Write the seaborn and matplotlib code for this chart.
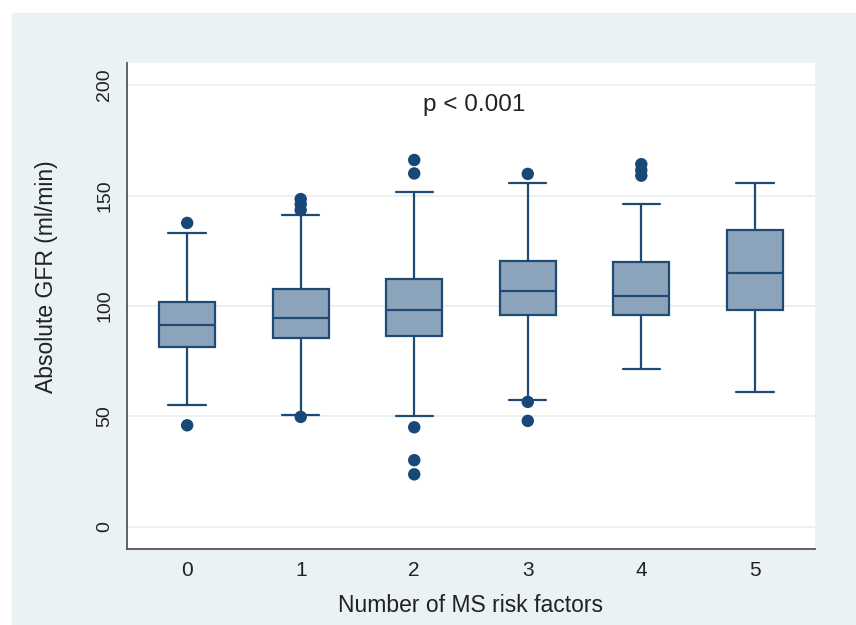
import seaborn as sns
import matplotlib.pyplot as plt
import matplotlib.patches as mpatches
import pandas as pd

groups = ['0', '1', '2', '3', '4', '5']
medians = [91.3, 94.7, 98.4, 106.7, 104.7, 115.1]
q1 = [81.3, 85.5, 86.4, 95.7, 95.9, 98.4]
q3 = [101.6, 107.9, 112.0, 120.2, 120.0, 134.5]
whisk_lo = [55.4, 50.6, 50.3, 57.6, 71.5, 61.0]
whisk_hi = [133.0, 141.3, 151.5, 155.6, 146.3, 155.8]
outliers = [
    [137.6, 46.0],
    [148.4, 146.0, 143.4, 49.8],
    [166.1, 160.0, 45.1, 30.2, 23.8],
    [159.8, 56.6, 48.0],
    [164.2, 161.5, 159.0],
    [],
]

sns.set_style('white')
plt.rcParams['font.family'] = ['Liberation Sans', 'DejaVu Sans']

navy = '#1F4A74'
fill = '#8CA4BB'
bg = '#EAF2F3'

fig = plt.figure(figsize=(8.56, 6.25), dpi=100, facecolor='white')
fig.patches.append(mpatches.Rectangle((12 / 856, 0), 1, 1 - 13 / 625,
                                      transform=fig.transFigure, color=bg, zorder=-10))
ax = fig.add_axes([127 / 856, 76 / 625, 688 / 856, 486 / 625])
ax.set_facecolor('white')

stats = []
for i, g in enumerate(groups):
    stats.append({'med': medians[i], 'q1': q1[i], 'q3': q3[i],
                  'whislo': whisk_lo[i], 'whishi': whisk_hi[i],
                  'fliers': [], 'label': g})

ax.bxp(stats, positions=range(len(groups)), widths=0.49, capwidths=0.33,
       showfliers=False, patch_artist=True,
       boxprops=dict(facecolor=fill, edgecolor=navy, linewidth=1.6),
       medianprops=dict(color=navy, linewidth=1.6),
       whiskerprops=dict(color=navy, linewidth=1.6),
       capprops=dict(color=navy, linewidth=1.6), zorder=3)

out_df = pd.DataFrame([(i, v) for i, vals in enumerate(outliers) for v in vals],
                      columns=['group', 'gfr'])
sns.scatterplot(data=out_df, x='group', y='gfr', ax=ax, color='#174878',
                s=80, edgecolor='none', zorder=4)

ax.set_xlim(-0.53, 5.53)
ax.set_ylim(-10, 210)
ax.set_yticks([0, 50, 100, 150, 200])
ax.set_xticks(range(len(groups)))
ax.set_xticklabels(groups)
ax.yaxis.grid(True, color='#E8EDEF', linewidth=1.2, zorder=0)
ax.set_axisbelow(True)

for side in ['top', 'right']:
    ax.spines[side].set_visible(False)
for side in ['left', 'bottom']:
    ax.spines[side].set_color('#555555')
    ax.spines[side].set_linewidth(1.3)

ax.tick_params(axis='y', length=6, width=1.1, color='#555555', pad=4,
               labelsize=14, labelrotation=90, labelcolor='#222222')
for lab in ax.get_yticklabels():
    lab.set_va('center')
ax.tick_params(axis='x', length=0, pad=9, labelsize=15, labelcolor='#222222')

ax.set_xlabel('Number of MS risk factors', fontsize=16.5, labelpad=10, color='#222222')
ax.set_ylabel('Absolute GFR (ml/min)', fontsize=16.5, color='#222222')
ax.yaxis.set_label_coords(-0.10, 0.56)
ax.text(2.53, 191, 'p < 0.001', ha='center', va='center', fontsize=17.5, color='#222222')

fig.savefig('out.png', dpi=100, facecolor=fig.get_facecolor())
